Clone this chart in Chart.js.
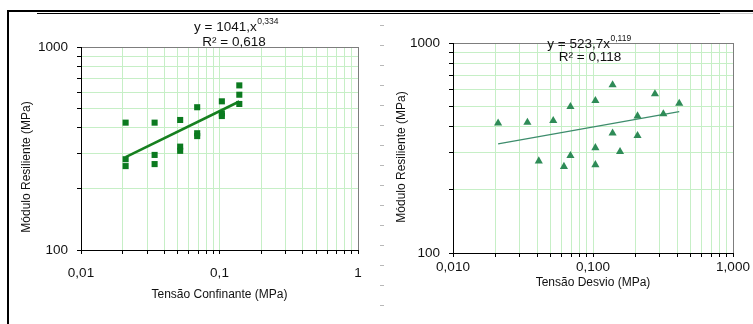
<!DOCTYPE html>
<html>
<head>
<meta charset="utf-8">
<script src="https://cdn.jsdelivr.net/npm/chart.js@4/dist/chart.umd.min.js"></script>
<style>
  body { margin: 0; background: #fff; }
  #wrap { position: relative; width: 753px; height: 324px; overflow: hidden; }
  canvas { position: absolute; top: 0; }
  .ln { position: absolute; background: #000; }
  #dashes { position: absolute; left: 380px; top: 25px; width: 4px; height: 299px;
    background: repeating-linear-gradient(to bottom, #b8b8b8 0 1px, transparent 1px 20px); }
</style>
</head>
<body>
<div id="wrap">
  <canvas id="left" width="375" height="324" style="left:0"></canvas>
  <canvas id="right" width="378" height="324" style="left:375px"></canvas>
  <div class="ln" style="left:7px;top:10px;width:746px;height:2px"></div>
  <div class="ln" style="left:37px;top:13px;width:683px;height:1px"></div>
  <div class="ln" style="left:720px;top:13px;width:33px;height:1px;background:#c8c8c8"></div>
  <div class="ln" style="left:7px;top:10px;width:2px;height:314px"></div>
  <div id="dashes"></div>
</div>
<script>
// left: Tensão Confinante
const leftX = [0.021,0.021,0.021,0.034,0.034,0.034,0.052,0.052,0.052,0.069,0.069,0.069,0.104,0.104,0.104,0.139,0.139,0.139];
const leftY = [424,280,259,424,294,265,437,323,308,505,376,364,540,471,457,647,582,524];
const leftTrendX = [0.021, 0.139];
const leftTrendY = [287, 539];
const leftXTicks = [0.01, 0.1, 1];
const leftXLabels = ['0,01', '0,1', '1'];

// right: Tensão Desvio
const rightX = [0.021,0.034,0.041,0.052,0.062,0.069,0.069,0.104,0.104,0.104,0.138,0.138,0.156,0.208,0.208,0.277,0.318,0.413];
const rightY = [415,419,274,427,258,497,291,531,317,263,631,372,304,449,362,572,459,516];
const rightTrendX = [0.021, 0.413];
const rightTrendY = [331, 471];
const rightXTicks = [0.01, 0.1, 1];
const rightXLabels = ['0,010', '0,100', '1,000'];

const yTicks = [100, 1000];
const yLabels = ['100', '1000'];

const FONT = '"Liberation Sans", Arial, sans-serif';
const GRID = '#c6efc6';
const EDGE = '#7d7d7d';

function pts(xs, ys) { return xs.map((x, i) => ({ x: x, y: ys[i] })); }

function labelFor(values, labels) {
  return v => {
    const i = values.findIndex(t => Math.abs(t - v) / t < 1e-6);
    return i < 0 ? '' : labels[i];
  };
}

// keep only 1..9 x 10^n ticks (v4 also adds 1.5 x 10^n)
function intTicks(s) {
  s.ticks = s.ticks.filter(t => {
    const m = t.value / Math.pow(10, Math.floor(Math.log10(t.value) + 1e-9));
    return Math.abs(m - Math.round(m)) < 1e-6;
  });
}

// equation text and y-axis title
const notes = {
  id: 'notes',
  afterDraw(chart, args, o) {
    const c = chart.ctx;
    c.save();
    c.fillStyle = '#111';
    c.textBaseline = 'middle';
    // equation line 1 with superscript
    c.font = '13.5px ' + FONT;
    const w1 = c.measureText(o.eq).width;
    c.font = '8.5px ' + FONT;
    const w2 = c.measureText(o.sup).width;
    const x0 = o.eqX - (w1 + w2) / 2;
    c.textAlign = 'left';
    c.font = '13.5px ' + FONT;
    c.fillText(o.eq, x0, o.eqY);
    c.font = '8.5px ' + FONT;
    c.fillText(o.sup, x0 + w1 + 0.5, o.eqY - 5);
    c.font = '13.5px ' + FONT;
    c.textAlign = 'center';
    c.fillText(o.r2, o.r2X, o.r2Y);
    // y title
    c.font = '12px ' + FONT;
    c.translate(o.yTitleX, o.yTitleY);
    c.rotate(-Math.PI / 2);
    c.fillText(o.yTitle, 0, 0);
    c.restore();
  }
};

function makeChart(id, cfg) {
  return new Chart(document.getElementById(id), {
    type: 'scatter',
    data: {
      datasets: [
        { data: pts(cfg.x, cfg.y), pointStyle: cfg.marker, pointRadius: cfg.radius,
          backgroundColor: cfg.markColor, borderColor: cfg.markColor, borderWidth: 0,
          pointHoverRadius: cfg.radius },
        { type: 'line', data: pts(cfg.tx, cfg.ty), borderColor: cfg.lineColor,
          borderWidth: cfg.lineWidth, pointRadius: 0, fill: false }
      ]
    },
    options: {
      responsive: false,
      animation: false,
      layout: { padding: { top: cfg.top, right: cfg.right, left: 0, bottom: 0 } },
      plugins: {
        legend: { display: false },
        tooltip: { enabled: false },
        notes: cfg.notes
      },
      scales: {
        x: {
          type: 'logarithmic', min: 0.01, max: 1,
          afterFit: s => { s.height = cfg.xHeight; },
          afterBuildTicks: intTicks,
          border: { color: '#000', width: 1 },
          grid: {
            color: c => (c.tick && Math.abs(c.tick.value - 1) < 1e-9) ? EDGE : GRID,
            tickColor: '#000', tickLength: 4, lineWidth: 1
          },
          ticks: {
            autoSkip: false, maxRotation: 0, padding: cfg.xPad,
            color: '#111', font: { family: FONT, size: 13.5 },
            callback: labelFor(cfg.xTicks, cfg.xLabels)
          },
          title: {
            display: true, text: cfg.xTitle, color: '#111',
            font: { family: FONT, size: 12 },
            padding: { top: 0, bottom: cfg.xTitlePad }
          }
        },
        y: {
          type: 'logarithmic', min: 100, max: 1000,
          afterFit: s => { s.width = cfg.yWidth; },
          afterBuildTicks: intTicks,
          border: { color: '#000', width: 1 },
          grid: {
            color: c => (c.tick && Math.abs(c.tick.value - 1000) < 1e-6) ? EDGE : GRID,
            tickColor: '#000', tickLength: 4, lineWidth: 1
          },
          ticks: {
            autoSkip: false, padding: 9,
            color: '#111', font: { family: FONT, size: 13.5 },
            callback: labelFor(yTicks, yLabels)
          }
        }
      }
    },
    plugins: [notes]
  });
}

makeChart('left', {
  x: leftX, y: leftY, tx: leftTrendX, ty: leftTrendY,
  marker: 'rect', radius: 4.3, markColor: '#0b7a1f',
  lineColor: '#16801f', lineWidth: 2.6,
  top: 47, right: 17, xHeight: 74, yWidth: 81, xPad: 11, xTitlePad: 22,
  xTicks: leftXTicks, xLabels: leftXLabels,
  xTitle: 'Tensão Confinante (MPa)',
  notes: { eq: 'y = 1041,x', sup: '0,334', eqX: 236, eqY: 27, r2: 'R² = 0,618', r2X: 234, r2Y: 42,
           yTitle: 'Módulo Resiliente (MPa)', yTitleX: 27, yTitleY: 167 }
});

makeChart('right', {
  x: rightX, y: rightY, tx: rightTrendX, ty: rightTrendY,
  marker: 'triangle', radius: 4.7, markColor: '#2e8b57',
  lineColor: '#3d8c6c', lineWidth: 1.3,
  top: 43, right: 20, xHeight: 71, yWidth: 78, xPad: 2, xTitlePad: 34,
  xTicks: rightXTicks, xLabels: rightXLabels,
  xTitle: 'Tensão Desvio (MPa)',
  notes: { eq: 'y = 523,7x', sup: '0,119', eqX: 214, eqY: 44, r2: 'R² = 0,118', r2X: 215, r2Y: 57,
           yTitle: 'Módulo Resiliente (MPa)', yTitleX: 27, yTitleY: 157 }
});
</script>
</body>
</html>
